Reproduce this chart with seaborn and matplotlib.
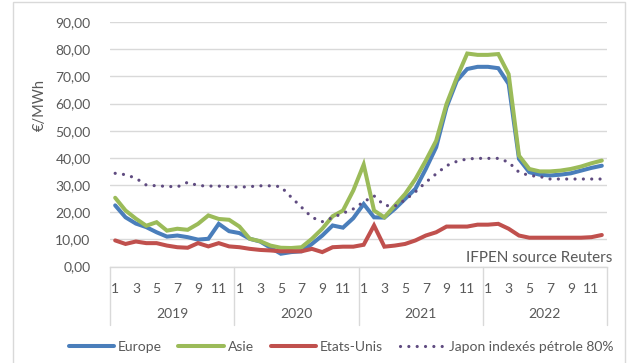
import matplotlib
matplotlib.use("Agg")
import matplotlib.pyplot as plt
from matplotlib.lines import Line2D
from matplotlib.patches import Rectangle
import matplotlib.transforms as mtransforms
import numpy as np
import pandas as pd
import seaborn as sns

# Monthly gas prices, Jan 2019 .. Dec 2022 (EUR/MWh)
years = [2019, 2020, 2021, 2022]
months = list(range(1, 13))

europe = [22.5, 18.1, 15.8, 14.5, 12.6, 11.0, 11.4, 10.8, 9.9, 10.2, 15.7, 13.0,
          12.3, 10.2, 9.2, 6.9, 4.7, 5.3, 5.6, 8.3, 11.4, 15.1, 14.3, 17.8,
          23.0, 18.1, 18.0, 21.2, 24.9, 28.6, 35.9, 43.9, 58.6, 68.4, 72.7, 73.5,
          73.5, 73.0, 67.2, 39.6, 34.7, 33.8, 33.5, 33.8, 34.3, 35.3, 36.3, 37.1]
asie = [25.3, 20.6, 17.6, 15.0, 16.3, 13.2, 13.9, 13.5, 15.7, 18.8, 17.5, 17.2,
        14.7, 10.2, 9.3, 7.7, 6.9, 6.8, 7.1, 10.2, 13.9, 18.5, 20.6, 28.0,
        37.5, 20.6, 18.1, 22.4, 26.7, 32.2, 39.0, 46.3, 59.8, 69.6, 78.4, 77.9,
        77.9, 78.2, 70.8, 40.8, 35.9, 35.0, 35.0, 35.3, 35.9, 36.8, 38.0, 39.0]
etats_unis = [9.6, 8.3, 9.2, 8.6, 8.6, 7.7, 7.1, 6.9, 8.6, 7.4, 8.6, 7.4,
              7.1, 6.5, 6.1, 5.9, 5.6, 5.6, 5.6, 6.5, 5.3, 7.1, 7.3, 7.3,
              8.0, 15.1, 7.3, 7.7, 8.3, 9.6, 11.4, 12.6, 14.7, 14.7, 14.7, 15.4,
              15.4, 15.7, 13.9, 11.4, 10.6, 10.6, 10.6, 10.6, 10.6, 10.6, 10.8, 11.6]
japon = [34.3, 33.8, 32.5, 30.0, 29.7, 29.5, 29.3, 31.0, 29.8, 29.6, 29.6, 29.4,
         29.2, 29.4, 29.7, 29.7, 29.4, 25.5, 21.8, 18.1, 16.5, 18.0, 19.6, 21.2,
         23.8, 26.0, 22.5, 22.2, 24.5, 27.5, 31.0, 34.1, 37.1, 38.7, 39.6, 39.8,
         39.8, 39.8, 38.4, 34.7, 33.5, 33.1, 32.2, 32.2, 32.2, 32.2, 32.2, 32.2]

series_names = ["Europe", "Asie", "Etats-Unis", "Japon indexés pétrole 80%"]
series_colors = ["#4a7ebb", "#9bbb59", "#c0504d", "#5f4b80"]
series_values = [europe, asie, etats_unis, japon]

y_ticks = [0, 10, 20, 30, 40, 50, 60, 70, 80, 90]

idx = np.arange(len(years) * len(months))
df = pd.DataFrame({"t": idx})
for name, vals in zip(series_names, series_values):
    df[name] = vals

sns.set_theme(style="white")
plt.rcParams["font.family"] = ["Lato", "DejaVu Sans"]

W, H = 635, 363
fig = plt.figure(figsize=(W / 100, H / 100), dpi=100)
fig.patch.set_facecolor("white")

# chart frame
fig.patches.append(Rectangle((13 / W, -0.05), (625 - 13) / W, 1.05 - 2.5 / H,
                             transform=fig.transFigure, fill=False,
                             edgecolor="#d9d9d9", lw=1.0))

left, right, top, bottom = 110, 607, 22, 266.5
ax = fig.add_axes([left / W, 1 - bottom / H, (right - left) / W, (bottom - top) / H])

grey = "#595959"
grid = "#d9d9d9"

for name, color in zip(series_names, series_colors):
    sns.lineplot(data=df, x="t", y=name, ax=ax, color=color, lw=2.9,
                 label=name, legend=False)

lines = ax.get_lines()
lines[3].set_linestyle((0, (0.01, 2.6)))
lines[3].set_dash_capstyle("round")
lines[3].set_linewidth(2.3)
for ln in lines[:3]:
    ln.set_solid_joinstyle("miter")

ax.set_xlim(-0.5, len(idx) - 0.5)
ax.set_ylim(0, 90)
ax.set_yticks(y_ticks)
ax.set_yticklabels([f"{v:.2f}".replace(".", ",") for v in y_ticks],
                   color=grey, fontsize=10)
ax.yaxis.grid(True, color=grid, lw=1.0)
ax.set_axisbelow(True)
ax.tick_params(axis="both", length=0)
ax.tick_params(axis="y", pad=14)

xt = [i for i in idx if months[i % 12] % 2 == 1]
ax.set_xticks(xt)
ax.set_xticklabels([str(months[i % 12]) for i in xt], color=grey, fontsize=10)
ax.tick_params(axis="x", pad=12)
ax.set_xlabel("")
ax.set_ylabel("")

for s in ["top", "right", "left"]:
    ax.spines[s].set_visible(False)
ax.spines["bottom"].set_color(grid)
ax.spines["bottom"].set_linewidth(1.0)

# year group labels and separators below the axis
trans = mtransforms.blended_transform_factory(ax.transData, ax.transAxes)
px = 1.0 / (bottom - top)
for k, yr in enumerate(years):
    ax.text(k * 12 + 5.5, -48 * px, str(yr), transform=trans, ha="center",
            va="center", color=grey, fontsize=10)
for k in range(len(years) + 1):
    x0 = k * 12 - 0.5
    ax.add_line(Line2D([x0, x0], [0, -58 * px], transform=trans, color=grid,
                       lw=1.0, clip_on=False))

ax.text(1.0 + 5 / (right - left), 8 * px, "IFPEN source Reuters",
        transform=ax.transAxes, ha="right", va="center", color=grey, fontsize=11)

fig.text(40 / W, 1 - 105 / H, "€/MWh", rotation=90, ha="center", va="center",
         color=grey, fontsize=10.5)

handles = [Line2D([], [], color=c, lw=2.9) for c in series_colors[:3]]
handles.append(Line2D([], [], color=series_colors[3], lw=2.3,
                      linestyle=(0, (0.01, 2.6)), dash_capstyle="round"))
leg = fig.legend(handles, series_names, loc="center", ncol=4,
                 bbox_to_anchor=(341 / W, 1 - 347 / H), frameon=False,
                 fontsize=10, handlelength=3.3, handletextpad=0.25,
                 columnspacing=1.2)
for t in leg.get_texts():
    t.set_color(grey)

fig.savefig("out.png", dpi=100, facecolor="white")
